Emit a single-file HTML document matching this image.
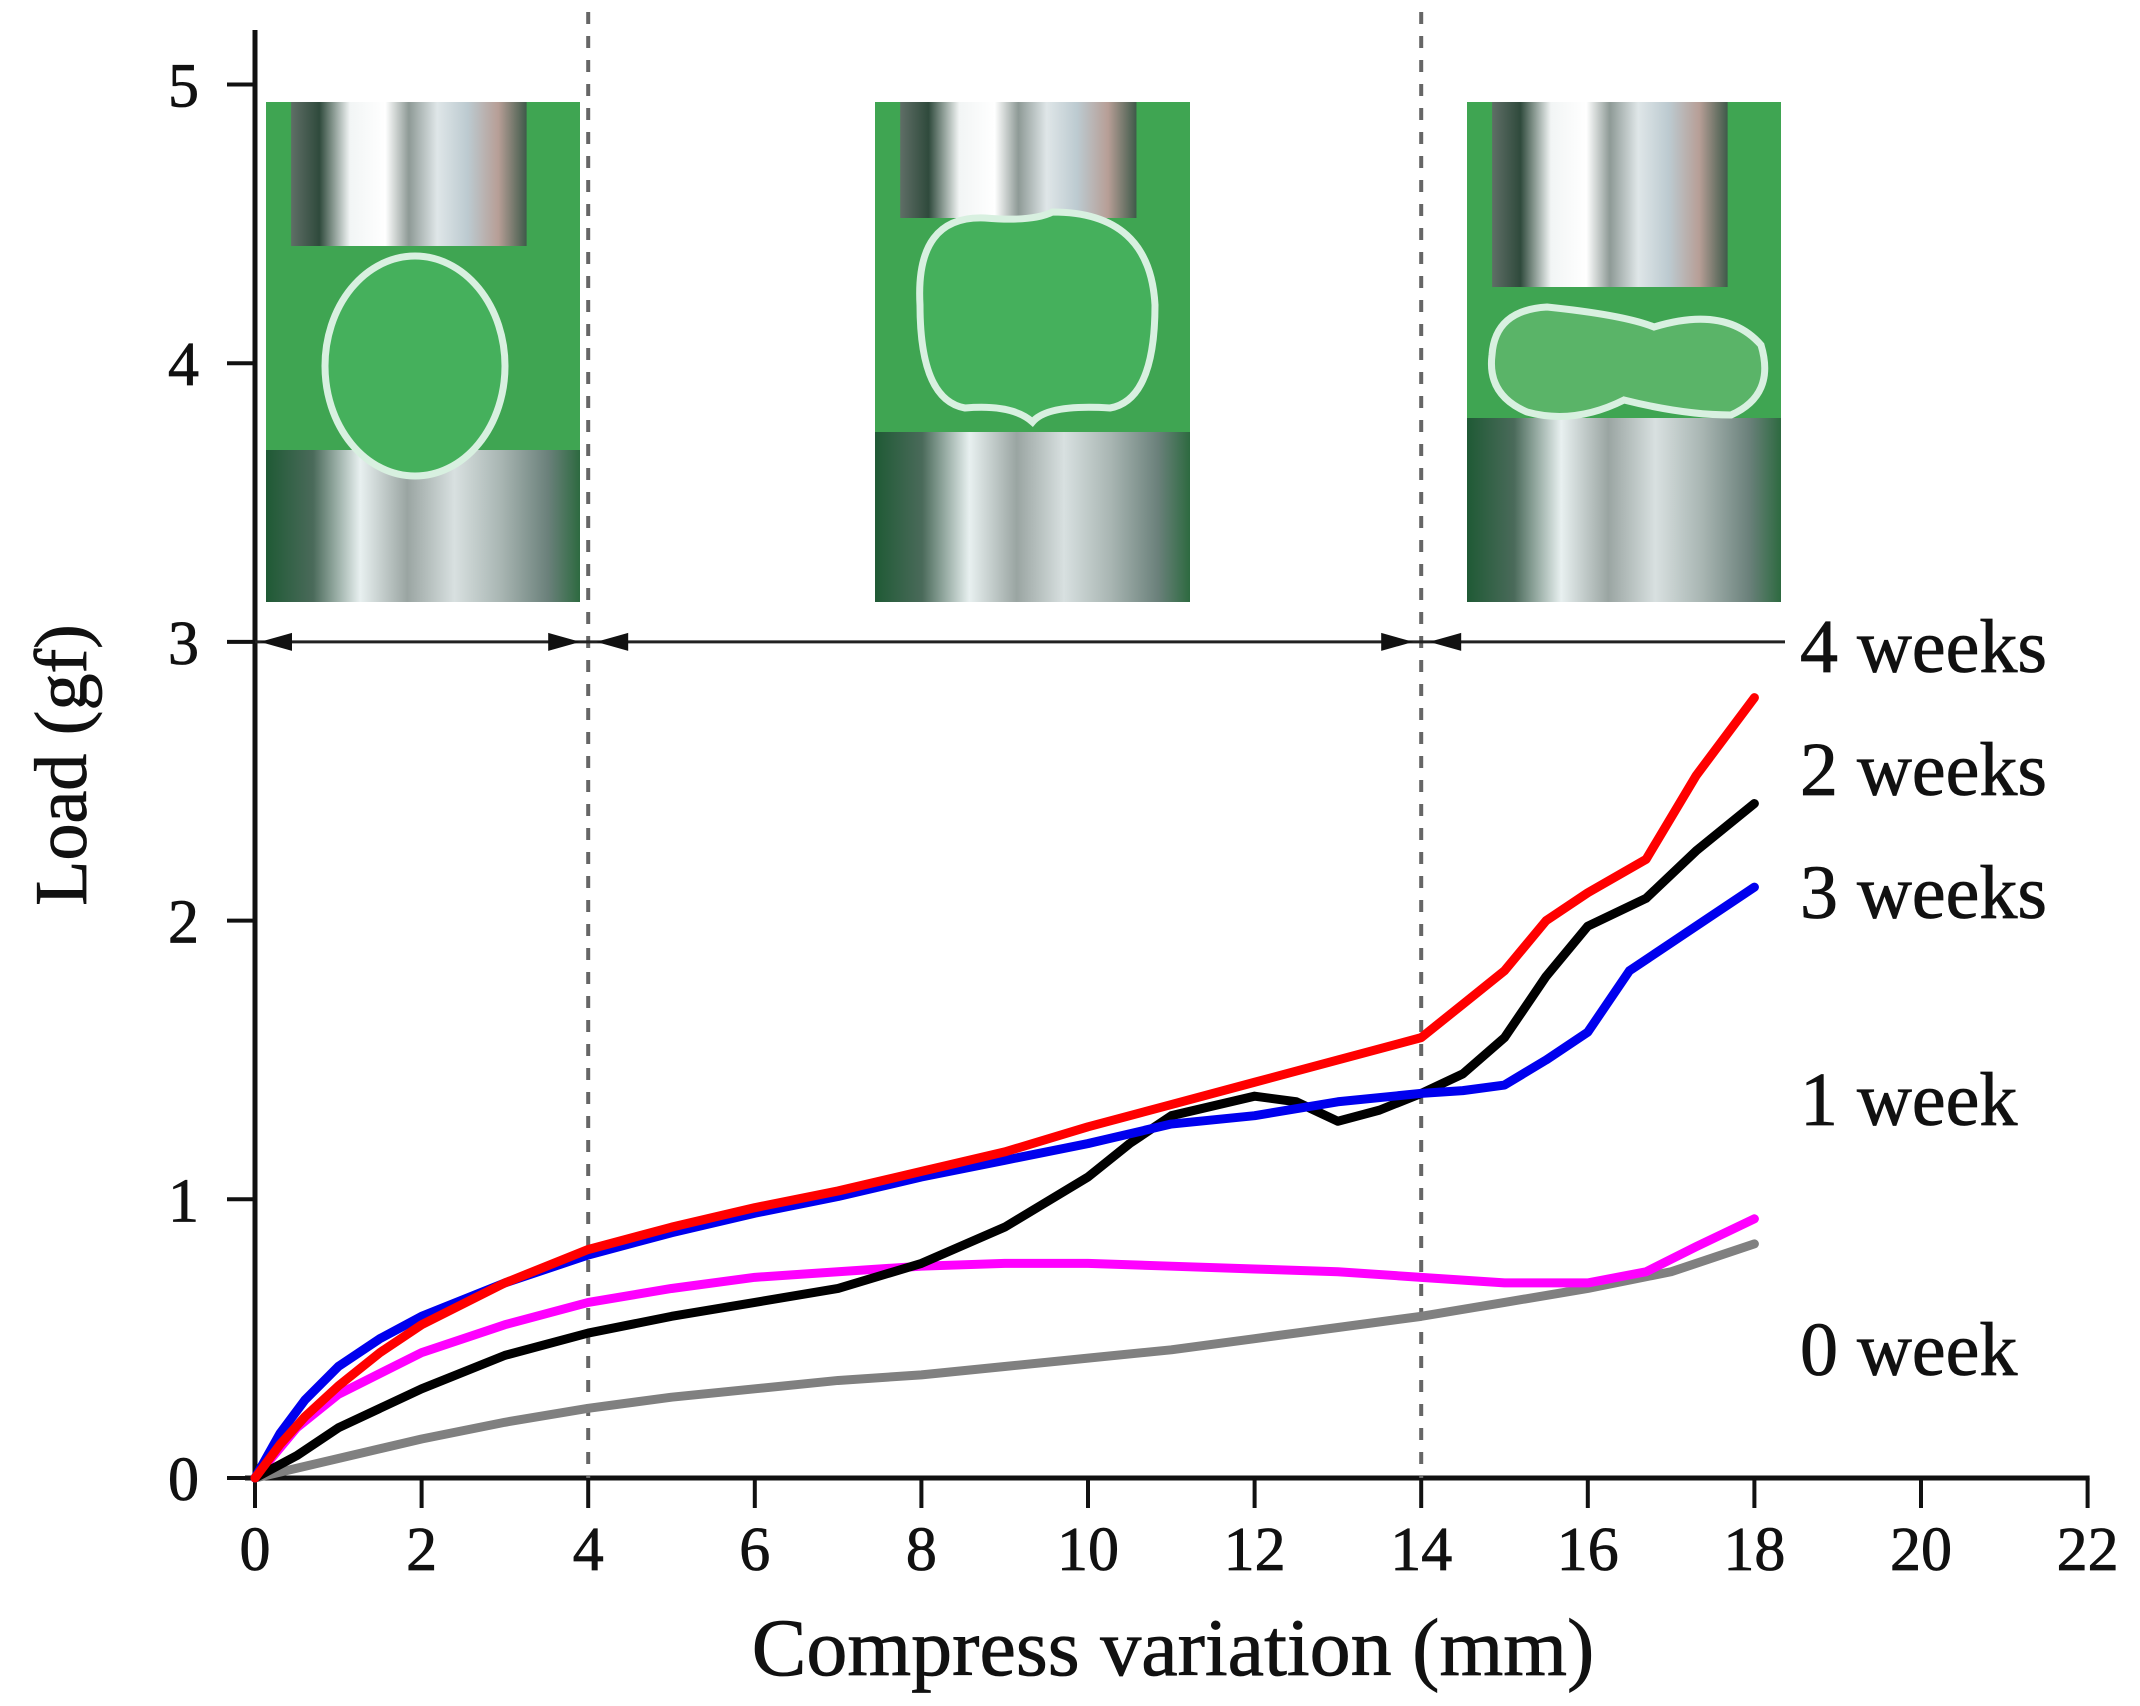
<!DOCTYPE html>
<html><head><meta charset="utf-8">
<style>
html,body{margin:0;padding:0;background:#fff;}
svg{display:block;}
text{font-family:"Liberation Serif",serif;fill:#111;stroke:#111;stroke-width:0.8px;}
</style></head>
<body>
<svg id="chart" width="2140" height="1706" viewBox="0 0 2140 1706" xmlns="http://www.w3.org/2000/svg">
<defs>
<linearGradient id="silver" x1="0" x2="1" y1="0" y2="0">
<stop offset="0" stop-color="#5f6e66"/><stop offset="0.12" stop-color="#2f4a3c"/><stop offset="0.25" stop-color="#f2f5f5"/><stop offset="0.4" stop-color="#ffffff"/><stop offset="0.5" stop-color="#8e9a96"/><stop offset="0.62" stop-color="#dfe6e8"/><stop offset="0.75" stop-color="#bccad0"/><stop offset="0.88" stop-color="#b79e96"/><stop offset="1" stop-color="#3f5a4a"/>
</linearGradient>
<linearGradient id="silver2" x1="0" x2="1" y1="0" y2="0">
<stop offset="0" stop-color="#1f5a35"/><stop offset="0.15" stop-color="#4a6a5a"/><stop offset="0.3" stop-color="#e8f0f0"/><stop offset="0.45" stop-color="#9aa5a2"/><stop offset="0.6" stop-color="#d8e0e0"/><stop offset="0.75" stop-color="#a8b5b2"/><stop offset="0.9" stop-color="#6a807a"/><stop offset="1" stop-color="#2d6a40"/>
</linearGradient>
</defs>
<g id="photos"></g>
<g id="axes"></g>
<g id="series"></g>
<g id="labels"></g>
</svg>
<script>
const xTicks = [0,2,4,6,8,10,12,14,16,18,20,22];
const yTicks = [0,1,2,3,4,5];
const seriesNames = ["4 weeks","2 weeks","3 weeks","1 week","0 week"];
const redX = [0,0.3,0.6,1,1.5,2,3,4,5,6,7,8,9,10,11,12,13,14,14.5,15,15.5,16,16.7,17.3,18];
const redY = [0,0.12,0.22,0.33,0.45,0.55,0.7,0.82,0.9,0.97,1.03,1.1,1.17,1.26,1.34,1.42,1.5,1.58,1.7,1.82,2.0,2.1,2.22,2.52,2.8];
const blackX = [0,0.5,1,2,3,4,5,6,7,8,9,10,10.5,11,12,12.5,13,13.5,14,14.5,15,15.5,16,16.7,17.3,18];
const blackY = [0,0.08,0.18,0.32,0.44,0.52,0.58,0.63,0.68,0.77,0.9,1.08,1.2,1.3,1.37,1.35,1.28,1.32,1.38,1.45,1.58,1.8,1.98,2.08,2.25,2.42];
const blueX = [0,0.3,0.6,1,1.5,2,3,4,5,6,7,8,9,10,11,12,13,14,14.5,15,15.5,16,16.5,17,17.5,18];
const blueY = [0,0.16,0.28,0.4,0.5,0.58,0.7,0.8,0.88,0.95,1.01,1.08,1.14,1.2,1.27,1.3,1.35,1.38,1.39,1.41,1.5,1.6,1.82,1.92,2.02,2.12];
const magX = [0,0.5,1,2,3,4,5,6,7,8,9,10,11,12,13,14,15,16,16.7,17.3,18];
const magY = [0,0.18,0.3,0.45,0.55,0.63,0.68,0.72,0.74,0.76,0.77,0.77,0.76,0.75,0.74,0.72,0.7,0.7,0.74,0.83,0.93];
const grayX = [0,1,2,3,4,5,6,7,8,9,10,11,12,13,14,15,16,17,18];
const grayY = [0,0.07,0.14,0.2,0.25,0.29,0.32,0.35,0.37,0.4,0.43,0.46,0.5,0.54,0.58,0.63,0.68,0.74,0.84];
const dashX = [4,14];
const arrowY = 3;

const NS="http://www.w3.org/2000/svg";
const X0=255, XS=83.3, Y0=1478, YS=278.7;
function sx(v){return X0+v*XS;}
function sy(v){return Y0-v*YS;}
function mk(tag,attrs,parent){const e=document.createElementNS(NS,tag);for(const k in attrs)e.setAttribute(k,attrs[k]);parent.appendChild(e);return e;}
const axes=document.getElementById('axes'),series=document.getElementById('series'),labels=document.getElementById('labels'),photos=document.getElementById('photos');

function photo(x,w,shape,name){
  const g=mk('g',{},photos);
  
  
  const y=102,h=500;
  mk('rect',{x:x,y:y,width:w,height:h,fill:'#3fa552'},g);
  const topH = shape===0?144:shape===1?116:185;
  mk('rect',{x:x+w*0.08,y:y,width:w*0.75,height:topH,fill:'url(#silver)'},g);
  const botY = shape===0?450:shape===1?432:418;
  mk('rect',{x:x,y:botY,width:w,height:y+h-botY,fill:'url(#silver2)'},g);
  const cx=x+w/2;
  if(shape===0){mk('ellipse',{cx:cx-8,cy:366,rx:90,ry:110,fill:'#45b05c',stroke:'#d8f0e0','stroke-width':7},g);}
  else if(shape===1){mk('path',{d:`M${x+45} 305 Q${x+40} 215 ${x+110} 218 Q${cx} 222 ${cx+20} 212 Q${x+w-40} 212 ${x+w-35} 305 Q${x+w-35} 400 ${x+w-80} 408 Q${cx+15} 404 ${cx} 422 Q${cx-20} 404 ${x+90} 408 Q${x+45} 400 ${x+45} 305Z`,fill:'#45b05c',stroke:'#d8f0e0','stroke-width':7},g);}
  else {mk('path',{d:`M${x+25} 355 Q${x+28} 310 ${x+80} 307 Q${cx} 315 ${cx+30} 327 Q${x+w-55} 305 ${x+w-20} 345 Q${x+w-5} 395 ${x+w-50} 415 Q${cx+60} 415 ${cx} 400 Q${cx-50} 425 ${x+60} 412 Q${x+20} 395 ${x+25} 355Z`,fill:'#5ab468',stroke:'#d8f0e0','stroke-width':7},g);}
}
photo(266,314,0,'photo-stage-1');
photo(875,315,1,'photo-stage-2');
photo(1467,314,2,'photo-stage-3');

let e=mk('line',{x1:X0,y1:30,x2:X0,y2:Y0+3,stroke:'#111','stroke-width':5},axes);

e=mk('line',{x1:X0-10,y1:Y0,x2:sx(22)+2,y2:Y0,stroke:'#111','stroke-width':5},axes);

xTicks.forEach(v=>{
  mk('line',{x1:sx(v),y1:Y0,x2:sx(v),y2:Y0+30,stroke:'#111','stroke-width':4},axes);
  const t=mk('text',{x:sx(v),y:Y0+92,'text-anchor':'middle','font-size':62},axes);
  
  t.textContent=v;
});
yTicks.forEach(v=>{
  mk('line',{x1:X0-28,y1:sy(v),x2:X0,y2:sy(v),stroke:'#111','stroke-width':4},axes);
  const t=mk('text',{x:X0-56,y:sy(v)+22,'text-anchor':'end','font-size':62},axes);
  
  t.textContent=v;
});
dashX.forEach(v=>{
  const d=mk('line',{x1:sx(v),y1:12,x2:sx(v),y2:Y0,stroke:'#666','stroke-width':4,'stroke-dasharray':'12 12'},axes);
  
});
const ay=sy(arrowY);
e=mk('line',{x1:X0,y1:ay,x2:1785,y2:ay,stroke:'#222','stroke-width':3},axes);

function arrowHead(x,dir){mk('path',{d:`M${x} ${ay} L${x-dir*32} ${ay-9} L${x-dir*32} ${ay+9}Z`,fill:'#111'},axes);}
arrowHead(X0+5,-1);arrowHead(sx(4)-8,1);arrowHead(sx(4)+8,-1);arrowHead(sx(14)-8,1);arrowHead(sx(14)+8,-1);

function line(xs,ys,color,name){
  const p=mk('polyline',{points:xs.map((x,i)=>sx(x)+','+sy(ys[i])).join(' '),fill:'none',stroke:color,'stroke-width':9,'stroke-linejoin':'round','stroke-linecap':'round'},series);
  
}
line(grayX,grayY,'#808080','series-0-week');
line(magX,magY,'#ff00ff','series-1-week');
line(blackX,blackY,'#000000','series-2-weeks');
line(blueX,blueY,'#0000ee','series-3-weeks');
line(redX,redY,'#ff0000','series-4-weeks');

const labelY=[672,795,918,1125,1375];
seriesNames.forEach((n,i)=>{
  const t=mk('text',{x:1800,y:labelY[i],'font-size':76},labels);
  
  t.textContent=n;
});
let t=mk('text',{x:1173,y:1675,'text-anchor':'middle','font-size':82},labels);

t.textContent='Compress variation (mm)';
t=mk('text',{x:0,y:0,'text-anchor':'middle','font-size':74,transform:'translate(86,765) rotate(-90)'},labels);

t.textContent='Load (gf)';
</script>
</body></html>
